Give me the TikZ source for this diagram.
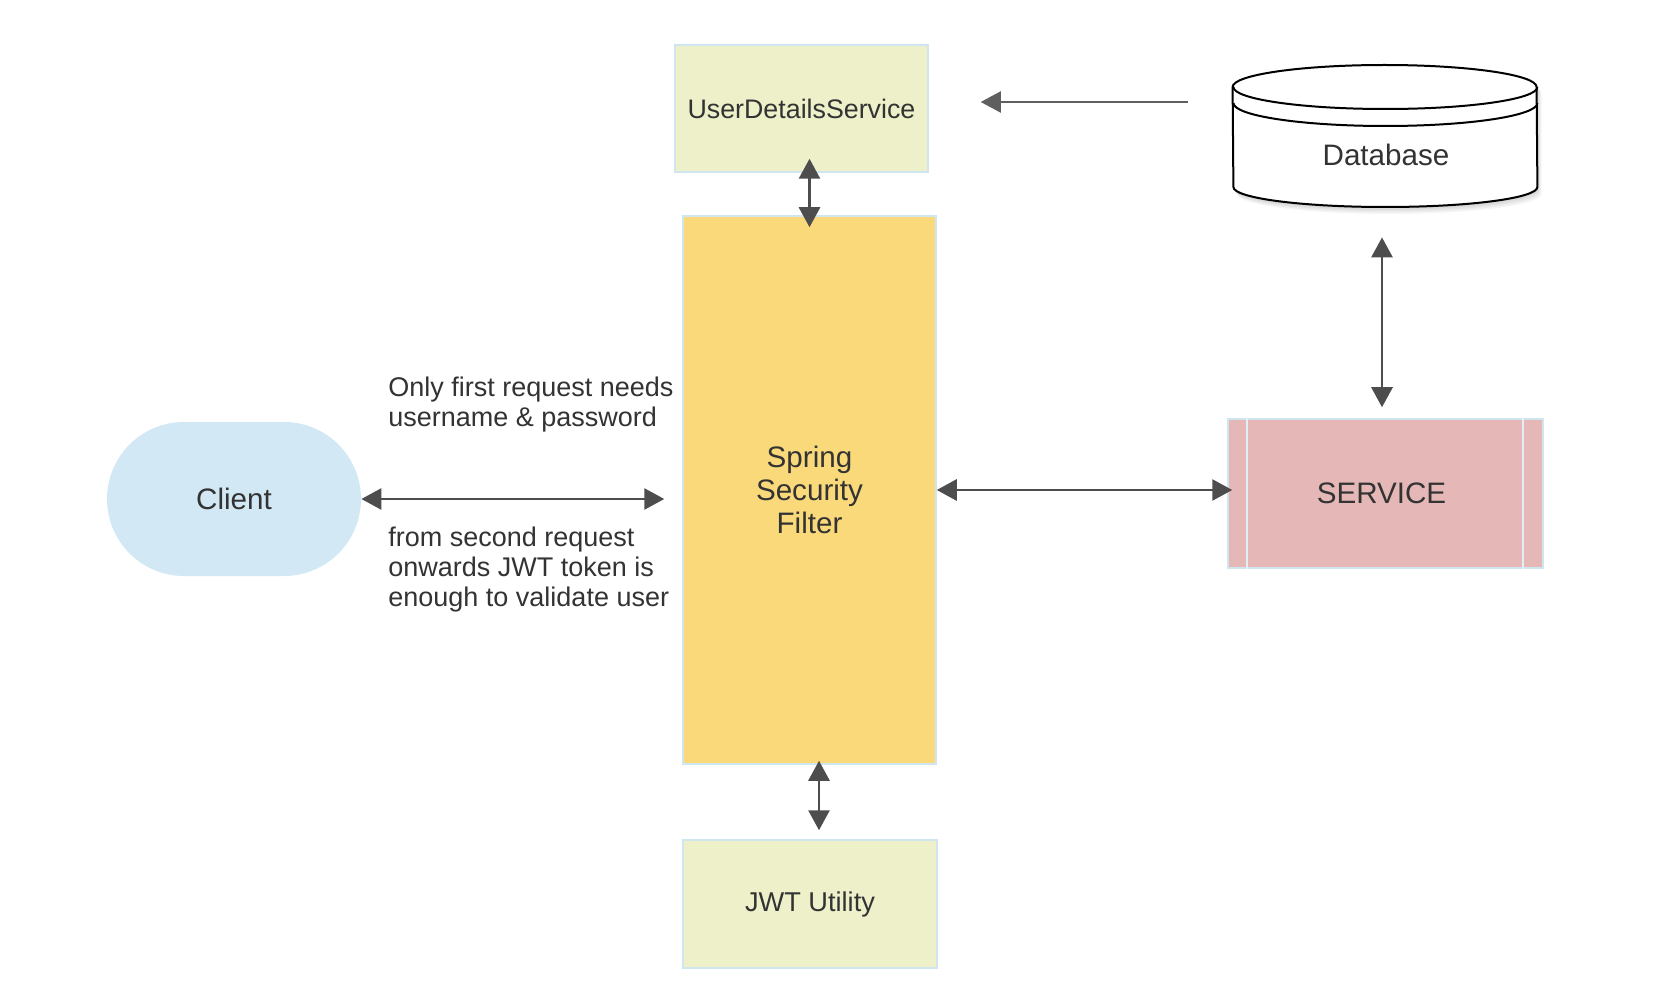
\documentclass[tikz,border=0pt]{standalone}
\usepackage{fontspec}
\setmainfont{Liberation Sans}
\usetikzlibrary{arrows.meta}
\definecolor{boxgreen}{RGB}{237,240,201}
\definecolor{boxyellow}{RGB}{250,217,122}
\definecolor{boxred}{RGB}{229,184,183}
\definecolor{boxblue}{RGB}{210,233,245}
\definecolor{edgeblue}{RGB}{207,230,240}
\definecolor{arrowgray}{RGB}{77,77,77}
\definecolor{txtgray}{RGB}{51,51,51}
\tikzset{
  bigtxt/.style={font=\fontsize{14.8}{16.5}\selectfont, text=txtgray, align=center},
  smalltxt/.style={font=\fontsize{13.5}{14.8}\selectfont, text=txtgray, align=left, inner sep=0pt, anchor=north west},
  compbox/.style={draw=edgeblue, line width=0.75pt, rectangle, inner sep=0pt, bigtxt},
  biarrow/.style={draw=arrowgray, line width=1.4pt, {Triangle[length=10pt,width=10.5pt]}-{Triangle[length=10pt,width=10.5pt]}},
  onearrow/.style={draw=arrowgray!90, line width=1pt, {Triangle[length=10pt,width=10.5pt]}-},
}
\begin{document}
\begin{tikzpicture}[x=0.5pt,y=-0.5pt]
\useasboundingbox[fill=white] (0,0) rectangle (1677,1000);

% boxes
\node[compbox, fill=boxgreen, minimum width=126.5pt, minimum height=63.5pt, font=\fontsize{13.4}{16}\selectfont] (uds) at (801.5,108.5) {UserDetailsService};
\node[compbox, fill=boxyellow, minimum width=126.5pt, minimum height=274pt] (ssf) at (809.5,490) {Spring\\Security\\Filter};
\node[compbox, fill=boxgreen, minimum width=127pt, minimum height=64pt, font=\fontsize{13.6}{16}\selectfont] (jwt) at (810,904) {\raisebox{-1pt}{JWT Utility}};
\node[rectangle, fill=boxblue, rounded corners=38.5pt, minimum width=127pt, minimum height=77pt, bigtxt] (client) at (234,499) {Client};
\node[compbox, fill=boxred, minimum width=157.5pt, minimum height=74.5pt] (service) at (1385.5,493.5) {\hspace*{-4pt}SERVICE};
\draw[edgeblue!60!white, line width=0.8pt] ([xshift=10pt]service.north west) -- ([xshift=10pt]service.south west);
\draw[edgeblue!60!white, line width=0.8pt] ([xshift=-10.5pt]service.north east) -- ([xshift=-10.5pt]service.south east);

% database cylinder
\node[rectangle, draw=none, minimum width=152pt, minimum height=71pt, inner sep=0pt] (db) at (1385,136) {};
\foreach \k in {1,2,3,4,5}{
  \fill[black, opacity=0.035] ([xshift=0.5*\k pt, yshift=-0.7*\k pt]db.west |- 0,87) arc (180:360:152 and 22) -- ++(0,100) arc (0:180:152 and 20) -- cycle;
}
\filldraw[fill=white, draw=black, line width=1pt] (db.west |- 0,87) arc (180:360:152 and 22) -- (db.east |- 0,187) arc (0:180:152 and 20) -- cycle;
\draw[black, line width=1pt] (db.east |- 0,87) arc (0:180:152 and 22);
\draw[black, line width=1pt] (db.east |- 0,103) arc (0:180:152 and 23);
\node[bigtxt] (dblabel) at (1386,155) {Database};

% labels
\node[smalltxt] (note1) at (388,377) {Only first request needs\\username \& password};
\node[smalltxt] (note2) at (388,527) {from second request\\onwards JWT token is\\enough to validate user};

% connectors
\draw[biarrow] ([yshift=7pt]uds.south -| ssf.north) -- ([yshift=-6pt]ssf.north);
\draw[biarrow] ([xshift=4.75pt,yshift=2pt]ssf.south) -- ([xshift=4.5pt,yshift=4.5pt]jwt.north);
\draw[biarrow] (client.east) -- ([xshift=-9pt]ssf.west |- client.east);
\draw[biarrow] (ssf.east) -- ([xshift=2.5pt]service.west |- ssf.east);
\draw[biarrow] ([xshift=-1.5pt,yshift=-15pt]db.south) -- ([xshift=-1.5pt,yshift=5.5pt]db.south |- service.north);
\draw[onearrow] ([xshift=26pt,yshift=3.25pt]uds.east) -- ([xshift=-22.5pt,yshift=3.25pt]db.west |- uds.east);
\end{tikzpicture}
\end{document}
